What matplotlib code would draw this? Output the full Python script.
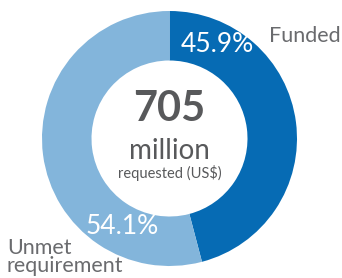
import matplotlib
matplotlib.use('Agg')
import matplotlib.pyplot as plt

# data
labels = ['Funded', 'Unmet\nrequirement']
shares = [45.9, 54.1]
colors = ['#066BB4', '#83B5DB']
total = 705

plt.rcParams['font.family'] = ['Lato', 'DejaVu Sans']

fig = plt.figure(figsize=(3.42, 2.78), dpi=100)
ax = fig.add_axes([0, 0, 1, 1])

# donut
cx, cy, r = 169.5, 278 - 138.5, 127.5
ax.pie(shares, colors=colors, startangle=90, counterclock=False,
       center=(cx, cy), radius=r, wedgeprops=dict(width=r - 78, linewidth=0),
       frame=True)
ax.set_xlim(0, 342)
ax.set_ylim(0, 278)
ax.set_aspect('equal')
ax.axis('off')

# percentages on the ring
ax.text(217, 278 - 45, f'{shares[0]}%', color='white', fontsize=19,
        ha='center', va='center')
ax.text(122, 278 - 227, f'{shares[1]}%', color='white', fontsize=19,
        ha='center', va='center')

# outside labels
gray = '#6A6B6E'
ax.text(269, 278 - 36, labels[0], color=gray, fontsize=15.5,
        ha='left', va='center')
ax.text(7, 278 - 257, labels[1], color=gray, fontsize=15.5,
        ha='left', va='center', linespacing=0.9)

# centre text
ax.text(cx, 278 - 109, str(total), color='#58595B', fontsize=30,
        fontweight='bold', ha='center', va='center')
ax.text(cx, 278 - 151, 'million', color='#58595B', fontsize=20,
        ha='center', va='center')
ax.text(cx, 278 - 173, 'requested (US$)', color='#58595B', fontsize=10.5,
        ha='center', va='center')

fig.savefig('out.png', dpi=100)
